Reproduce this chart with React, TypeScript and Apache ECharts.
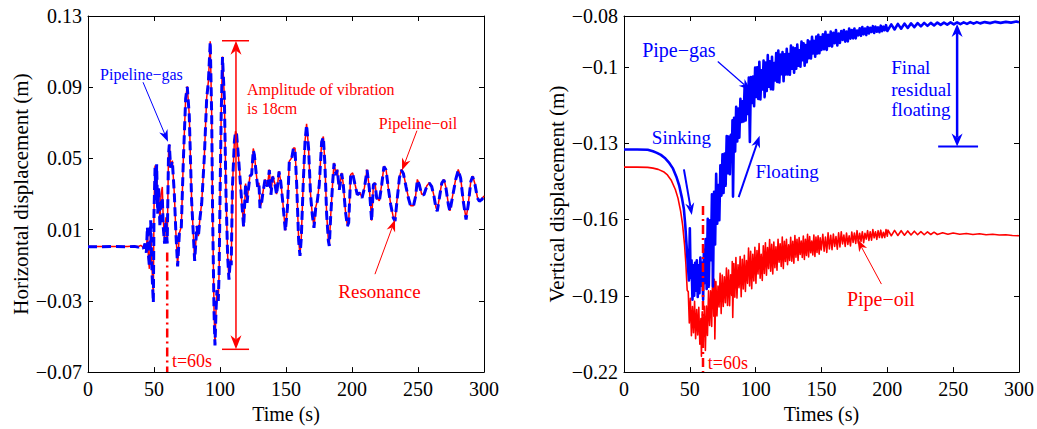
import React, { useEffect, useRef } from "react";
import * as echarts from "echarts";

// ---------- axis ticks ----------
const X_TICKS = [0, 50, 100, 150, 200, 250, 300];
const LEFT_Y_TICKS = [-0.07, -0.03, 0.01, 0.05, 0.09, 0.13];
const RIGHT_Y_TICKS = [-0.22, -0.19, -0.16, -0.13, -0.1, -0.08];

// ---------- left panel: horizontal displacement (t [s], m) ----------
const leftGas: [number, number][] = [
  [0, 0.0004], [10, 0.0004], [20, 0.0005], [30, 0.0004], [35, 0.0006], [38, 0.0002], [40, 0.0009], [42, -0.0006],
  [43.2, 0.0022], [44.2, -0.003], [45, 0.0115], [45.8, -0.004], [46.5, -0.0107], [47.5, 0.0152], [48.5, -0.0144],
  [49.5, -0.031], [50, 0.019], [50.8, 0.0448], [51.5, 0.0263], [52, 0.0467], [52.8, 0.019], [53.5, 0.0337],
  [54.5, 0.0115], [55.3, 0.0263], [56.3, 0.028], [57, 0.0115], [58, 0.0022], [59, 0.0152], [60, 0.0022],
  [61, 0.0522], [61.6, 0.0578], [62.6, 0.0448], [63.9, 0.0485], [65.4, 0.03], [66.6, 0.0078], [67.9, -0.0107],
  [69.2, 0.0078], [70.7, 0.0115], [72.2, 0.0485], [74, 0.0837], [75.2, 0.0902], [76.7, 0.0744], [78.5, 0.0263],
  [80.8, -0.0075], [82.5, 0.012], [83.6, 0.006], [84.9, 0.017], [86.1, 0.0244], [88.1, 0.0504], [89.9, 0.0837],
  [91.2, 0.093], [92.6, 0.1155], [93.7, 0.0744], [94.4, 0.0189], [95.5, -0.0367], [96.2, -0.055], [97, -0.035],
  [97.7, -0.024], [98.7, -0.03], [99.3, -0.015], [100.1, 0.032], [100.9, 0.0744], [101.9, 0.107], [103.3, 0.0837],
  [104.6, 0.0281], [105.8, -0.0052], [106.8, -0.0181], [107.8, -0.007], [108.5, -0.01], [109.4, 0.0337],
  [110.9, 0.0596], [111.8, 0.065], [112.6, 0.0633], [114.4, 0.0467], [116.4, 0.0263], [117.9, 0.0115],
  [119.4, 0.0356], [120.5, 0.025], [121.4, 0.032], [122.7, 0.04], [124, 0.0411], [125.2, 0.0546], [126, 0.0522],
  [127.5, 0.041], [128.5, 0.034], [129.5, 0.036], [130.3, 0.0222], [131.5, 0.025], [132.3, 0.0296], [134.1, 0.038],
  [135.9, 0.0342], [137.4, 0.0435], [138.6, 0.0296], [139.9, 0.0398], [141.7, 0.0352], [142.9, 0.0296],
  [144.7, 0.0426], [146, 0.037], [147.5, 0.0259], [149.5, 0.0092], [151.1, 0.0222], [152.5, 0.0481], [154.3, 0.05],
  [155.6, 0.0555], [156.8, 0.0555], [158.1, 0.0352], [159.6, 0.0037], [160.6, -0.0047], [161.6, 0.0055],
  [163.1, 0.037], [164.4, 0.0592], [165.6, 0.0689], [167.1, 0.0555], [168.6, 0.0296], [169.9, 0.0185],
  [171.2, 0.011], [172.5, 0.0222], [173.7, 0.0259], [175.2, 0.0352], [177, 0.0592], [178.3, 0.062], [179.5, 0.0463],
  [180.8, 0.0185], [182.1, 0.0037], [182.8, 0.0009], [183.8, 0.0167], [185.4, 0.037], [186.4, 0.0472],
  [187.9, 0.0407], [188.9, 0.0435], [190.4, 0.0324], [192.2, 0.0416], [193.4, 0.0352], [195, 0.0204],
  [196.5, 0.012], [197.5, 0.0139], [199, 0.0407], [200.5, 0.0416], [202.3, 0.0352], [204, 0.0296], [205.8, 0.0306],
  [207.6, 0.0278], [209.4, 0.0333], [211.4, 0.0435], [213.1, 0.0333], [214.9, 0.0148], [216.2, 0.0352],
  [217.4, 0.0361], [218.7, 0.0278], [220.7, 0.0259], [222.5, 0.0352], [224.2, 0.0454], [225.8, 0.0435],
  [227.5, 0.0333], [229.3, 0.0241], [231.3, 0.0166], [232.6, 0.0148], [233.8, 0.0241], [235.9, 0.0389],
  [237.4, 0.0435], [238.9, 0.0416], [240.9, 0.0342], [242.7, 0.0278], [244.5, 0.0231], [246.5, 0.0231],
  [248.2, 0.0287], [249.5, 0.0379], [251, 0.0352], [252.8, 0.0296], [254.5, 0.0296], [256.6, 0.0342],
  [258.6, 0.0361], [260.4, 0.0342], [262.1, 0.0287], [263.6, 0.0222], [264.6, 0.0203], [266.2, 0.0278],
  [268, 0.0361], [269.7, 0.0379], [271.2, 0.0333], [273, 0.0241], [274.2, 0.0203], [276, 0.0278], [278.5, 0.0379],
  [280.5, 0.0435], [282.3, 0.0389], [284.3, 0.0259], [286.4, 0.0157], [288.1, 0.0241], [290, 0.037],
  [291.4, 0.0398], [293.2, 0.0352], [295, 0.0278], [296.5, 0.0259], [298.3, 0.0269], [300, 0.0287],
];

const leftOil: [number, number][] = [
  [0, 0.0005], [10, 0.0005], [20, 0.0005], [30, 0.0006], [35, 0.0008], [38, 0.0004], [40, 0.0012], [42, -0.0002],
  [43.2, 0.0015], [44.2, -0.002], [45, 0.009], [45.8, -0.006], [46.5, -0.012], [47.5, 0.012], [48.5, -0.012],
  [49.5, -0.028], [50, 0.022], [50.8, 0.046], [51.5, 0.029], [52, 0.044], [52.8, 0.022], [53.5, 0.031],
  [54.5, 0.014], [55.3, 0.03], [56.3, 0.034], [57, 0.016], [58, 0.004], [59, 0.017], [60, 0.003],
  [61, 0.0525], [61.6, 0.058], [62.6, 0.045], [63.9, 0.0488], [65.4, 0.0302], [66.6, 0.008], [67.9, -0.0104],
  [69.2, 0.008], [70.7, 0.0118], [72.2, 0.0488], [74, 0.084], [75.2, 0.0905], [76.7, 0.0747], [78.5, 0.0266],
  [80.8, -0.0072], [82.5, 0.0123], [83.6, 0.0063], [84.9, 0.0173], [86.1, 0.0247], [88.1, 0.0507], [89.9, 0.084],
  [91.2, 0.0933], [92.6, 0.1158], [93.7, 0.0747], [94.4, 0.0192], [95.5, -0.0364], [96.2, -0.0547], [97, -0.0347],
  [97.7, -0.0237], [98.7, -0.0297], [99.3, -0.0147], [100.1, 0.0323], [100.9, 0.0747], [101.9, 0.1073],
  [103.3, 0.084], [104.6, 0.0284], [105.8, -0.0049], [106.8, -0.0178], [107.8, -0.0067], [108.5, -0.0097],
  [109.4, 0.034], [110.9, 0.0599], [111.8, 0.0653], [112.6, 0.0636], [114.4, 0.047], [116.4, 0.0266],
  [117.9, 0.0118], [119.4, 0.0359], [120.5, 0.0253], [121.4, 0.0323], [122.7, 0.0403], [124, 0.0414],
  [125.2, 0.0556], [126, 0.0525], [127.5, 0.0413], [128.5, 0.0343], [129.5, 0.0363], [130.3, 0.0225],
  [131.5, 0.0253], [132.3, 0.0299], [134.1, 0.0383], [135.9, 0.0345], [137.4, 0.0438], [138.6, 0.0299],
  [139.9, 0.0401], [141.7, 0.0355], [142.9, 0.0299], [144.7, 0.0429], [146, 0.0373], [147.5, 0.0262],
  [149.5, 0.0095], [151.1, 0.0225], [152.5, 0.0484], [154.3, 0.0503], [155.6, 0.0558], [156.8, 0.0558],
  [158.1, 0.0355], [159.6, 0.004], [160.6, -0.0044], [161.6, 0.0058], [163.1, 0.0373], [164.4, 0.0595],
  [165.6, 0.0695], [167.1, 0.0558], [168.6, 0.0299], [169.9, 0.0188], [171.2, 0.0113], [172.5, 0.0225],
  [173.7, 0.0262], [175.2, 0.0355], [177, 0.0595], [178.3, 0.0623], [179.5, 0.0466], [180.8, 0.0188],
  [182.1, 0.004], [182.8, 0.0012], [183.8, 0.017], [185.4, 0.0373], [186.4, 0.0475], [187.9, 0.041],
  [188.9, 0.0438], [190.4, 0.0327], [192.2, 0.0419], [193.4, 0.0355], [195, 0.0207], [196.5, 0.0123],
  [197.5, 0.0142], [199, 0.041], [200.5, 0.0419], [202.3, 0.0355], [204, 0.0299], [205.8, 0.0309],
  [207.6, 0.0281], [209.4, 0.0336], [211.4, 0.0438], [213.1, 0.0336], [214.9, 0.0151], [216.2, 0.0355],
  [217.4, 0.0364], [218.7, 0.0281], [220.7, 0.0262], [222.5, 0.0355], [224.2, 0.0457], [225.8, 0.0438],
  [227.5, 0.0336], [229.3, 0.0244], [231.3, 0.0169], [232.6, 0.0151], [233.8, 0.0244], [235.9, 0.0392],
  [237.4, 0.0438], [238.9, 0.0419], [240.9, 0.0345], [242.7, 0.0281], [244.5, 0.0234], [246.5, 0.0234],
  [248.2, 0.029], [249.5, 0.0382], [251, 0.0355], [252.8, 0.0299], [254.5, 0.0299], [256.6, 0.0345],
  [258.6, 0.0364], [260.4, 0.0345], [262.1, 0.029], [263.6, 0.0225], [264.6, 0.0206], [266.2, 0.0281],
  [268, 0.0364], [269.7, 0.0382], [271.2, 0.0336], [273, 0.0244], [274.2, 0.0206], [276, 0.0281],
  [278.5, 0.0382], [280.5, 0.0438], [282.3, 0.0392], [284.3, 0.0262], [286.4, 0.016], [288.1, 0.0244],
  [290, 0.0373], [291.4, 0.0401], [293.2, 0.0355], [295, 0.0281], [296.5, 0.0262], [298.3, 0.0272], [300, 0.029],
];

// ---------- right panel: vertical displacement (t [s], m) ----------
const rightGas: [number, number][] = [
  [0, -0.1325], [10, -0.1325], [18, -0.1326], [22, -0.1332], [25, -0.1338], [28, -0.1346], [31, -0.1358],
  [34, -0.1375], [37, -0.1398], [40, -0.1435], [42, -0.1468], [44, -0.1515], [45.5, -0.156], [46.5, -0.162],
  [47.5, -0.17], [48.5, -0.178], [49.3, -0.184], [50, -0.1635], [50.6, -0.183], [51.3, -0.176], [52, -0.1915],
  [52.6, -0.178], [53.3, -0.19], [54, -0.177], [54.7, -0.188], [55.3, -0.176], [56, -0.1905], [56.7, -0.178],
  [57.3, -0.189], [58, -0.175], [58.8, -0.186], [59.4, -0.177], [60.1, -0.1915], [60.7, -0.172], [61.4, -0.185],
  [62, -0.1677], [62.8, -0.1873], [63.6, -0.1597], [64.4, -0.1864], [65.2, -0.1603], [66, -0.176],
  [66.8, -0.1501], [67.6, -0.1863], [68.4, -0.1491], [69.2, -0.1698], [70, -0.142], [70.8, -0.1617],
  [71.6, -0.1465], [72.4, -0.1603], [73.2, -0.1387], [74, -0.1506], [74.8, -0.1344], [75.6, -0.1496],
  [76.4, -0.1341], [77.2, -0.1467], [78, -0.1272], [78.8, -0.1418], [79.6, -0.1274], [80.4, -0.1422],
  [81.2, -0.1267], [82, -0.1335], [82.4, -0.121], [82.8, -0.151], [83.6, -0.12], [84.4, -0.1333],
  [85.2, -0.1157], [86, -0.1293], [86.8, -0.1164], [87.6, -0.1278], [88.4, -0.1126], [89.2, -0.1217],
  [90, -0.1135], [90.8, -0.1215], [91.6, -0.1079], [92.4, -0.1211], [93.2, -0.1076], [94, -0.1185],
  [94.8, -0.1042], [95.6, -0.1295], [96.4, -0.104], [97.2, -0.1142], [98, -0.1038], [98.8, -0.1155],
  [99.6, -0.1003], [100.4, -0.1118], [101.2, -0.1002], [102, -0.1126], [102.8, -0.098], [103.6, -0.1128],
  [104.4, -0.1013], [105.2, -0.1089], [106, -0.0975], [106.8, -0.1119], [107.6, -0.0983], [108.4, -0.1095],
  [109.2, -0.0954], [110, -0.1078], [110.8, -0.0978], [111.6, -0.1088], [112.4, -0.096], [113.2, -0.1089],
  [114, -0.0985], [114.8, -0.1053], [115.6, -0.0946], [116.4, -0.1059], [117.2, -0.0936], [118, -0.1061],
  [118.8, -0.0952], [119.6, -0.1029], [120.4, -0.0942], [121.2, -0.1056], [122, -0.0951], [122.8, -0.103],
  [123.6, -0.0929], [124.4, -0.103], [125.2, -0.095], [126, -0.1031], [126.8, -0.0916], [127.6, -0.1007],
  [128.4, -0.0924], [129.2, -0.1023], [130, -0.0927], [130.8, -0.1007], [131.6, -0.0912], [132.4, -0.0995],
  [133.2, -0.0935], [134, -0.0999], [134.8, -0.09], [135.6, -0.0974], [136.4, -0.0907], [137.2, -0.0995],
  [138, -0.0914], [138.8, -0.0982], [139.6, -0.0896], [140.4, -0.0966], [141.2, -0.09], [142, -0.0967],
  [142.8, -0.0882], [143.6, -0.0947], [144.4, -0.0898], [145.2, -0.096], [146, -0.0881], [146.8, -0.0947],
  [147.6, -0.0874], [148.4, -0.0946], [149.2, -0.0883], [150, -0.0933], [151, -0.0872], [152, -0.0931],
  [153, -0.0862], [154, -0.0933], [155, -0.0874], [156, -0.0918], [157, -0.0861], [158, -0.092],
  [159, -0.0866], [160, -0.0907], [161, -0.0855], [162, -0.0916], [163, -0.0869], [164, -0.0906],
  [165, -0.0859], [166, -0.0894], [167, -0.0855], [168, -0.0901], [169, -0.0861], [170, -0.09],
  [171, -0.0849], [172, -0.0889], [173, -0.0855], [174, -0.0888], [175, -0.0849], [176, -0.0888],
  [177, -0.0857], [178, -0.0876], [179, -0.0848], [180, -0.0878], [181, -0.0843], [182, -0.0872],
  [183, -0.0849], [184, -0.0875], [185, -0.0843], [186, -0.0869], [187, -0.0846], [188, -0.0863],
  [189, -0.084], [190, -0.0867], [191, -0.0842], [192, -0.0862], [193, -0.0845], [194, -0.0864],
  [195, -0.0838], [196, -0.086], [197, -0.0842], [198, -0.0856], [199, -0.0836], [200, -0.0859],
  [203, -0.0833], [205.5, -0.0853], [208, -0.0831], [210.5, -0.085], [213, -0.083], [215.5, -0.0847],
  [218, -0.0829], [220.5, -0.0844], [223, -0.0828], [225.5, -0.0841], [228, -0.0827], [230.5, -0.0839],
  [233, -0.0827], [235.5, -0.0837], [238, -0.0826], [240.5, -0.0835], [243, -0.0826], [245.5, -0.0834],
  [248, -0.0825], [250.5, -0.0833], [253, -0.0825], [255.5, -0.0832], [258, -0.0825], [260.5, -0.0831],
  [263, -0.0824], [265.5, -0.083], [268, -0.0824], [270.5, -0.0829], [274, -0.0824], [278, -0.0828],
  [282, -0.0823], [286, -0.0827], [290, -0.0823], [294, -0.0826], [298, -0.0822], [300, -0.0825],
];

const rightOil: [number, number][] = [
  [0, -0.1394], [10, -0.1394], [18, -0.1395], [22, -0.1398], [26, -0.1403], [30, -0.1412], [33, -0.1425],
  [36, -0.1447], [39, -0.1482], [41, -0.1516], [43, -0.1567], [44.5, -0.162], [46, -0.17], [47, -0.1775],
  [48, -0.1878], [48.8, -0.1884], [49.6, -0.2007], [50.4, -0.191], [51.2, -0.2057], [52, -0.1942],
  [52.8, -0.2045], [53.6, -0.1922], [54.4, -0.2069], [55.2, -0.1954], [56, -0.2054], [56.8, -0.1945],
  [57.6, -0.209], [58.4, -0.1989], [58.8, -0.2138], [59.4, -0.1963], [60.2, -0.2083], [61, -0.1941],
  [61.8, -0.2115], [62.6, -0.194], [63.4, -0.2056], [64.2, -0.188], [65, -0.2017], [65.8, -0.188],
  [66.6, -0.2021], [67.4, -0.179], [68.2, -0.198], [68.6, -0.1835], [69, -0.207], [69.8, -0.1844],
  [70.6, -0.1979], [71.4, -0.1862], [72.2, -0.1944], [73, -0.1812], [73.8, -0.197], [74.6, -0.1818],
  [75.4, -0.1942], [76.2, -0.1825], [77, -0.1927], [77.8, -0.1791], [78.6, -0.1938], [79.4, -0.1799],
  [80.2, -0.1939], [81, -0.1817], [81.8, -0.1899], [82.2, -0.1765], [82.6, -0.1985], [83.4, -0.1773],
  [84.2, -0.1906], [85, -0.175], [85.8, -0.1909], [86.6, -0.1778], [87.4, -0.1868], [88.2, -0.1746],
  [89, -0.1904], [89.8, -0.1757], [90.6, -0.1873], [91.4, -0.1741], [92.2, -0.1883], [93, -0.1761],
  [93.8, -0.1851], [94.6, -0.1712], [95.4, -0.1861], [96.2, -0.1725], [97, -0.1872], [97.8, -0.1737],
  [98.6, -0.1842], [99.4, -0.1709], [100.2, -0.1851], [101, -0.1722], [101.8, -0.1814], [102.6, -0.1695],
  [103.4, -0.1831], [104.2, -0.1737], [105, -0.184], [105.8, -0.1703], [106.6, -0.1812], [107.4, -0.1692],
  [108.2, -0.1819], [109, -0.171], [109.8, -0.1793], [110.6, -0.1679], [111.4, -0.1803], [112.2, -0.1698],
  [113, -0.1814], [113.8, -0.1689], [114.6, -0.179], [115.4, -0.1707], [116.2, -0.1799], [117, -0.1678],
  [117.8, -0.1768], [118.6, -0.1696], [119.4, -0.1785], [120.2, -0.1669], [121, -0.1793], [121.8, -0.1686],
  [122.6, -0.1765], [123.4, -0.1678], [124.2, -0.1778], [125, -0.17], [125.8, -0.1761], [126.6, -0.167],
  [127.4, -0.1764], [128.2, -0.1686], [129, -0.1772], [129.8, -0.1663], [130.6, -0.1748], [131.4, -0.1678],
  [132.2, -0.1761], [133, -0.1671], [133.8, -0.1737], [134.6, -0.1685], [135.4, -0.1749], [136.2, -0.1665],
  [137, -0.1757], [137.8, -0.1678], [138.6, -0.1741], [139.4, -0.1658], [140.2, -0.1747], [141, -0.1667],
  [141.8, -0.1731], [142.6, -0.1685], [143.4, -0.1739], [144.2, -0.1661], [145, -0.1745], [145.8, -0.1669],
  [146.6, -0.173], [147.4, -0.1664], [148.2, -0.1736], [149, -0.1672], [149.8, -0.172], [151, -0.1658],
  [152, -0.1725], [153, -0.1669], [154, -0.173], [155, -0.1652], [156, -0.1716], [157, -0.1662],
  [158, -0.1719], [159, -0.1657], [160, -0.1706], [161, -0.1667], [162, -0.1717], [163, -0.1652],
  [164, -0.1708], [165, -0.1648], [166, -0.1696], [167, -0.1661], [168, -0.1706], [169, -0.1653],
  [170, -0.1698], [171, -0.1664], [172, -0.1704], [173, -0.1649], [174, -0.169], [175, -0.1653],
  [176, -0.1694], [177, -0.1644], [178, -0.1693], [179, -0.1654], [180, -0.1686], [181, -0.1648],
  [182, -0.1691], [183, -0.1654], [184, -0.1677], [185, -0.1644], [186, -0.1682], [187, -0.1648],
  [188, -0.1681], [189, -0.164], [190, -0.1672], [191, -0.1648], [192, -0.1678], [193, -0.1644],
  [194, -0.1671], [195, -0.1642], [196, -0.1672], [197, -0.165], [198, -0.1671], [199, -0.164],
  [200, -0.1666], [200.5, -0.1642], [203, -0.1664], [205.5, -0.1643], [208, -0.1663], [210.5, -0.1644],
  [213, -0.1662], [215.5, -0.1645], [218, -0.1661], [220.5, -0.1646], [223, -0.166], [225.5, -0.1648],
  [228, -0.166], [230.5, -0.1649], [233, -0.1659], [235.5, -0.165], [238, -0.1659], [242, -0.1652],
  [246, -0.1658], [250, -0.1653], [255, -0.1658], [260, -0.1655], [265, -0.1659], [270, -0.1656],
  [275, -0.166], [280, -0.1658], [285, -0.1661], [290, -0.166], [295, -0.1663], [300, -0.1664],
];

const FONT = "'Liberation Serif', 'Times New Roman', serif";
const BLUE = "#0000ff";
const RED = "#ff0000";

export default function App() {
  const ref = useRef<HTMLDivElement>(null);

  useEffect(() => {
    const chart = echarts.init(ref.current!, null, { renderer: "svg" });

    const fmtMinus = (v: number) => String(+v.toFixed(2)).replace("-", "\u2212");
    const fmtLeft = (v: number) => v.toFixed(2).replace("-", "\u2212");

    const xAxisDef = (gridIndex: number, name: string | null, top: boolean) => ({
      type: "value",
      gridIndex,
      position: top ? "top" : "bottom",
      min: X_TICKS[0],
      max: X_TICKS[X_TICKS.length - 1],
      interval: X_TICKS[1] - X_TICKS[0],
      axisLine: { show: true, onZero: false, lineStyle: { color: "#000", width: 1 } },
      axisTick: { show: true, inside: true, length: 5, lineStyle: { color: "#000", width: 1 } },
      axisLabel: {
        show: !top,
        color: "#000",
        fontSize: 20,
        fontFamily: FONT,
        margin: 7,
      },
      splitLine: { show: false },
      name: name || "",
      nameLocation: "middle",
      nameGap: 25,
      nameTextStyle: { color: "#000", fontSize: 20, fontFamily: FONT },
    });

    const yAxisDef = (
      gridIndex: number,
      ticks: number[],
      fmt: (v: number) => string,
      name: string | null,
      right: boolean
    ) => ({
      type: "value",
      gridIndex,
      position: right ? "right" : "left",
      min: ticks[0],
      max: ticks[ticks.length - 1],
      axisLine: { show: true, onZero: false, lineStyle: { color: "#000", width: 1 } },
      axisTick: {
        show: true,
        inside: true,
        length: 5,
        customValues: ticks,
        lineStyle: { color: "#000", width: 1 },
      },
      axisLabel: {
        show: !right,
        customValues: ticks,
        formatter: (v: number) => fmt(v),
        color: "#000",
        fontSize: 20,
        fontFamily: FONT,
        margin: 6,
      },
      splitLine: { show: false },
      name: name || "",
      nameLocation: "middle",
      nameGap: 55,
      nameTextStyle: { color: "#000", fontSize: 21, fontFamily: FONT },
    });

    chart.setOption({
      animation: false,
      backgroundColor: "#ffffff",
      textStyle: { fontFamily: FONT },
      grid: [
        { left: 88, top: 16, width: 396, height: 360 },
        { left: 624, top: 16, width: 396, height: 360 },
      ],
      xAxis: [
        xAxisDef(0, "Time (s)", false),
        xAxisDef(0, null, true),
        xAxisDef(1, "Times (s)", false),
        xAxisDef(1, null, true),
      ],
      yAxis: [
        yAxisDef(0, LEFT_Y_TICKS, fmtLeft, "Horizontal displacement (m)", false),
        yAxisDef(0, LEFT_Y_TICKS, fmtLeft, null, true),
        yAxisDef(1, RIGHT_Y_TICKS, fmtMinus, "Vertical displacement (m)", false),
        yAxisDef(1, RIGHT_Y_TICKS, fmtMinus, null, true),
      ],
      series: [
        {
          name: "Pipeline-oil",
          type: "line",
          xAxisIndex: 0,
          yAxisIndex: 0,
          data: leftOil,
          showSymbol: false,
          symbol: "none",
          lineStyle: { color: RED, width: 1.5 },
          z: 2,
        },
        {
          name: "Pipeline-gas",
          type: "line",
          xAxisIndex: 0,
          yAxisIndex: 0,
          data: leftGas,
          showSymbol: false,
          symbol: "none",
          lineStyle: { color: BLUE, width: 3, type: [9, 5] },
          z: 3,
        },
        {
          name: "Pipe-oil",
          type: "line",
          xAxisIndex: 2,
          yAxisIndex: 2,
          data: rightOil,
          showSymbol: false,
          symbol: "none",
          lineStyle: { color: RED, width: 1.6, join: "round" },
          z: 2,
        },
        {
          name: "Pipe-gas",
          type: "line",
          xAxisIndex: 2,
          yAxisIndex: 2,
          data: rightGas,
          showSymbol: false,
          symbol: "none",
          lineStyle: { color: BLUE, width: 2.6, join: "round" },
          z: 3,
        },
      ],
    });

    // ---------- annotations (positions in data coordinates) ----------
    const px = (s: number, t: number, v: number) =>
      chart.convertToPixel({ seriesIndex: s }, [t, v]) as number[];

    const els: any[] = [];
    const text = (s: number, t: number, v: number, str: string, color: string, size: number, align = "center") => {
      const p = px(s, t, v);
      els.push({
        type: "text",
        silent: true,
        z: 100,
        style: {
          text: str,
          x: p[0],
          y: p[1],
          fill: color,
          fontSize: size,
          fontFamily: FONT,
          align,
          verticalAlign: "middle",
        },
      });
    };
    const seg = (a: number[], b: number[], color: string, w: number, dash?: number[]) => {
      els.push({
        type: "line",
        silent: true,
        z: 100,
        shape: { x1: a[0], y1: a[1], x2: b[0], y2: b[1] },
        style: { stroke: color, lineWidth: w, lineDash: dash || null },
      });
    };
    const head = (from: number[], to: number[], color: string, len: number, half: number) => {
      const dx = to[0] - from[0];
      const dy = to[1] - from[1];
      const L = Math.hypot(dx, dy) || 1;
      const ux = dx / L;
      const uy = dy / L;
      const bx = to[0] - ux * len;
      const by = to[1] - uy * len;
      els.push({
        type: "polygon",
        silent: true,
        z: 101,
        shape: {
          points: [
            [to[0], to[1]],
            [bx - uy * half, by + ux * half],
            [bx + ux * len * 0.3, by + uy * len * 0.3],
            [bx + uy * half, by - ux * half],
          ],
        },
        style: { fill: color },
      });
      return [bx + ux * len * 0.3, by + uy * len * 0.3];
    };
    const arrow = (s: number, t1: number, v1: number, t2: number, v2: number, color: string, w: number, len = 12, half = 4.5) => {
      const a = px(s, t1, v1);
      const b = px(s, t2, v2);
      const end = head(a, b, color, len, half);
      seg(a, end, color, w);
    };

    // left panel
    text(0, 40.5, 0.0972, "Pipeline\u2212gas", BLUE, 16);
    arrow(0, 41.7, 0.0928, 60.6, 0.0594, BLUE, 1);
    text(0, 120.5, 0.0889, "Amplitude of vibration", RED, 16, "left");
    text(0, 120.5, 0.0783, "is 18cm", RED, 16, "left");
    {
      const top = px(0, 112.1, 0.1161);
      const bot = px(0, 112.1, -0.0572);
      const mid = [top[0], (top[1] + bot[1]) / 2];
      const e1 = head(mid, top, RED, 14, 5.5);
      const e2 = head(mid, bot, RED, 14, 5.5);
      seg(e1, e2, RED, 1.5);
      seg(px(0, 101.5, 0.1161), px(0, 122, 0.1161), RED, 1.5);
      seg(px(0, 101.5, -0.0572), px(0, 122, -0.0572), RED, 1.5);
    }
    text(0, 250, 0.0694, "Pipeline\u2212oil", RED, 16);
    arrow(0, 249.2, 0.0656, 237.9, 0.0433, RED, 1);
    text(0, 220.8, -0.025, "Resonance", RED, 19);
    arrow(0, 217.4, -0.015, 232.6, 0.0156, RED, 1);
    seg(px(0, 60, -0.0028), px(0, 60, -0.07), RED, 2.5, [9, 4, 2, 4]);
    text(0, 63.6, -0.0639, "t=60s", RED, 18, "left");

    // right panel
    text(2, 41.7, -0.0932, "Pipe\u2212gas", BLUE, 20);
    arrow(2, 71.2, -0.0979, 96.2, -0.1092, BLUE, 1.2);
    text(2, 43.6, -0.1278, "Sinking", BLUE, 19);
    arrow(2, 45.5, -0.1403, 51.5, -0.1582, BLUE, 2);
    text(2, 123.9, -0.1411, "Floating", BLUE, 19);
    arrow(2, 87.1, -0.1512, 103, -0.1271, BLUE, 2);
    text(2, 203, -0.1002, "Final", BLUE, 19, "left");
    text(2, 203, -0.1088, "residual", BLUE, 19, "left");
    text(2, 203, -0.1169, "floating", BLUE, 19, "left");
    {
      const top = px(2, 253, -0.0831);
      const bot = px(2, 253, -0.1313);
      const mid = [top[0], (top[1] + bot[1]) / 2];
      const e1 = head(mid, top, BLUE, 13, 5.5);
      const e2 = head(mid, bot, BLUE, 13, 5.5);
      seg(e1, e2, BLUE, 2.5);
      seg(px(2, 238.6, -0.1313), px(2, 268.9, -0.1313), BLUE, 2);
    }
    text(2, 195.1, -0.1912, "Pipe\u2212oil", RED, 20);
    arrow(2, 195.5, -0.1854, 177.3, -0.1679, RED, 1);
    seg(px(2, 60, -0.1547), px(2, 60, -0.22), RED, 2.5, [9, 4, 2, 4]);
    text(2, 63.6, -0.2165, "t=60s", RED, 18, "left");

    chart.setOption({ graphic: els });

    return () => chart.dispose();
  }, []);

  return (
    <div
      ref={ref}
      style={{ position: "absolute", left: 0, top: 0, width: 1037, height: 429, background: "#fff" }}
    />
  );
}
